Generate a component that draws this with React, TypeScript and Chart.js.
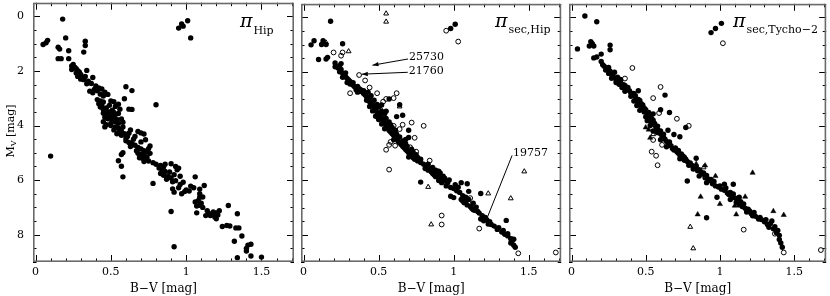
import { useEffect, useRef } from 'react';
import { Chart, registerables } from 'chart.js';

Chart.register(...registerables);

type Pt = [number, number];

// ---------- axes ----------
const X_MIN = -0.017;
const X_MAX = 1.716;
const Y_MIN = -0.5;
const Y_MAX = 9.0;
const X_TICKS = [0, 0.5, 1, 1.5];
const X_TICK_LABELS = ['0', '0.5', '1', '1.5'];
const X_MINOR = [0, 0.1, 0.2, 0.3, 0.4, 0.5, 0.6, 0.7, 0.8, 0.9, 1.0, 1.1, 1.2, 1.3, 1.4, 1.5, 1.6, 1.7];
const Y_TICKS = [0, 2, 4, 6, 8];
const Y_TICK_LABELS = ['0', '2', '4', '6', '8'];
const Y_MINOR = [-0.5, 0, 0.5, 1, 1.5, 2, 2.5, 3, 3.5, 4, 4.5, 5, 5.5, 6, 6.5, 7, 7.5, 8, 8.5, 9];
const X_TITLE = 'B\u2212V [mag]';
const Y_TITLE_MAIN = 'M';
const Y_TITLE_SUB = 'V';
const Y_TITLE_REST = ' [mag]';

// ---------- panel 1: pi_Hip ----------
const P1_FILLED: Pt[] = [
  [0.18, 0.10], [0.05, 1.03], [0.07, 0.97], [0.08, 0.88], [0.20, 0.79], [0.33, 0.91], [0.33, 1.07],
  [0.15, 1.13], [0.16, 1.20], [0.22, 1.26], [0.32, 1.31], [0.22, 1.55], [0.15, 1.55], [0.17, 1.55],
  [0.95, 0.43], [0.98, 0.36], [0.97, 0.28], [1.01, 0.16], [1.03, 0.79],
  [0.10, 5.12], [0.80, 3.24], [0.92, 8.44], [0.90, 7.15], [1.12, 6.20], [0.78, 6.12],
  [0.24, 1.82], [0.25, 1.76], [0.26, 1.86], [0.27, 1.92], [0.24, 1.95], [0.28, 1.99], [0.29, 2.04],
  [0.27, 2.08], [0.34, 1.98], [0.30, 2.13], [0.28, 2.20], [0.31, 2.25], [0.33, 2.20], [0.32, 2.32],
  [0.35, 2.38], [0.38, 2.24], [0.37, 2.46], [0.34, 2.47], [0.30, 2.30],
  [0.40, 2.55], [0.42, 2.62], [0.39, 2.68], [0.36, 2.74], [0.38, 2.80], [0.41, 2.73], [0.44, 2.66],
  [0.46, 2.78], [0.43, 2.85], [0.45, 2.92], [0.60, 2.58], [0.64, 2.72], [0.59, 3.02], [0.48, 2.86],
  [0.41, 3.05], [0.43, 3.10], [0.45, 3.14], [0.42, 3.20], [0.44, 3.26], [0.43, 3.32], [0.47, 3.36],
  [0.45, 3.42], [0.46, 3.47], [0.50, 3.10], [0.52, 3.13], [0.55, 3.22], [0.53, 3.30], [0.56, 3.40],
  [0.62, 3.40], [0.64, 3.41], [0.49, 3.26], [0.51, 3.44],
  [0.45, 3.55], [0.47, 3.60], [0.46, 3.70], [0.48, 3.75], [0.50, 3.66], [0.52, 3.70], [0.51, 3.80],
  [0.53, 3.86], [0.55, 3.92], [0.50, 3.92], [0.45, 3.86], [0.47, 3.97], [0.57, 3.76], [0.53, 3.60],
  [0.55, 3.56], [0.49, 3.50], [0.52, 3.52], [0.54, 3.78], [0.58, 3.88],
  [0.46, 4.05], [0.50, 4.00], [0.53, 4.05], [0.55, 4.10], [0.52, 4.16], [0.57, 4.20], [0.55, 4.26],
  [0.59, 4.30], [0.57, 4.36], [0.61, 4.40], [0.60, 4.46], [0.54, 4.30], [0.63, 4.16], [0.58, 4.05],
  [0.65, 4.50], [0.68, 4.22], [0.70, 4.27], [0.72, 4.31], [0.62, 4.28], [0.66, 4.40],
  [0.60, 4.56], [0.62, 4.62], [0.64, 4.66], [0.66, 4.72], [0.63, 4.77], [0.68, 4.80], [0.70, 4.86],
  [0.72, 4.92], [0.74, 4.96], [0.67, 4.92], [0.70, 4.60], [0.73, 4.52], [0.76, 4.75], [0.75, 4.85],
  [0.57, 5.06], [0.58, 5.00],
  [0.68, 5.02], [0.70, 5.06], [0.72, 5.10], [0.74, 5.15], [0.71, 5.20], [0.73, 5.25], [0.69, 5.18],
  [0.76, 5.02], [0.75, 5.30], [0.78, 5.36], [0.80, 5.42], [0.83, 5.46], [0.85, 5.52], [0.82, 5.56],
  [0.90, 5.40], [0.93, 5.50], [0.95, 5.56], [0.94, 5.62], [0.55, 5.29], [0.57, 5.49], [0.58, 5.88],
  [0.72, 5.32], [0.86, 5.42],
  [0.84, 5.62], [0.86, 5.68], [0.83, 5.76], [0.85, 5.82], [0.88, 5.86], [0.90, 5.92], [0.87, 5.97],
  [0.92, 5.80], [0.96, 5.86], [1.06, 5.88], [0.93, 6.02], [0.91, 6.06], [0.89, 5.70],
  [0.91, 6.32], [0.92, 6.44], [0.98, 6.08], [0.97, 6.50], [1.00, 6.36], [1.03, 6.22], [1.05, 6.28],
  [1.09, 6.33], [1.09, 6.50], [0.95, 6.28], [0.99, 6.42], [1.02, 6.40], [0.96, 6.16],
  [1.09, 6.63], [1.08, 6.75], [1.09, 6.92], [1.11, 6.62], [1.10, 6.85], [1.07, 6.95], [1.11, 7.00],
  [1.07, 7.20], [1.06, 6.80],
  [1.14, 7.12], [1.15, 7.22], [1.16, 7.30], [1.18, 7.17], [1.19, 7.35], [1.20, 7.42], [1.21, 7.28],
  [1.22, 7.12], [1.28, 6.93], [1.17, 7.25], [1.20, 7.20], [1.13, 7.30],
  [1.24, 7.70], [1.27, 7.66], [1.29, 7.68], [1.34, 7.23], [1.33, 7.75], [1.35, 7.75], [1.37, 8.05],
  [1.32, 8.24], [1.34, 8.84], [1.40, 8.50], [1.40, 8.60], [1.41, 8.38], [1.43, 8.35], [1.43, 8.78],
  [1.50, 8.82],
];

// ---------- panel 2: pi_sec,Hip ----------
const P2_FILLED: Pt[] = [
  [0.18, 0.14], [0.05, 1.01], [0.07, 0.86], [0.13, 0.86], [0.12, 1.00], [0.15, 1.00], [0.26, 0.97],
  [0.10, 1.55], [0.15, 1.53], [0.16, 1.47], [0.98, 0.41], [1.01, 0.25],
  [0.21, 1.68], [0.21, 1.82], [0.23, 1.86], [0.24, 1.78], [0.25, 1.92], [0.24, 2.00], [0.26, 2.05],
  [0.27, 2.12], [0.28, 2.18], [0.26, 2.20], [0.29, 2.25], [0.30, 2.30], [0.31, 2.36], [0.28, 2.04],
  [0.25, 1.70], [0.33, 2.40], [0.34, 2.55], [0.35, 2.66], [0.37, 2.62], [0.38, 2.66], [0.39, 2.74],
  [0.36, 2.75], [0.40, 2.80], [0.41, 2.86], [0.42, 2.92], [0.43, 3.00], [0.44, 2.96], [0.42, 3.05],
  [0.44, 3.10], [0.45, 3.16], [0.46, 3.22], [0.44, 3.28], [0.47, 3.32], [0.48, 3.38], [0.46, 3.44],
  [0.49, 3.50], [0.50, 3.56], [0.51, 3.62], [0.48, 3.64], [0.52, 3.70], [0.50, 3.76], [0.53, 3.82],
  [0.54, 3.88], [0.52, 3.92], [0.55, 3.98], [0.56, 4.04], [0.54, 4.10], [0.57, 4.16], [0.58, 4.22],
  [0.59, 4.28], [0.60, 4.34], [0.61, 4.40], [0.62, 4.46], [0.60, 4.50], [0.63, 4.56], [0.64, 4.62],
  [0.65, 4.68], [0.66, 4.74], [0.67, 4.80], [0.68, 4.86], [0.69, 4.92], [0.70, 4.98], [0.71, 5.04],
  [0.72, 5.10], [0.73, 5.16], [0.74, 5.22], [0.70, 5.14], [0.76, 5.28], [0.78, 5.34], [0.80, 5.40],
  [0.82, 5.46], [0.81, 5.56], [0.83, 5.62], [0.85, 5.68], [0.86, 5.74], [0.87, 5.80], [0.88, 5.86],
  [0.90, 5.78], [0.92, 5.90], [0.93, 5.84], [0.91, 5.96], [0.89, 5.70], [0.94, 6.02], [0.96, 6.08],
  [0.95, 6.20], [0.98, 6.26], [1.00, 6.30], [1.02, 6.38], [1.04, 6.44], [1.05, 6.70], [1.06, 6.76],
  [1.07, 6.82], [1.08, 6.76], [1.09, 6.90], [1.11, 6.96], [1.12, 7.02], [1.13, 7.08], [1.14, 7.10],
  [1.16, 7.14], [1.18, 7.42], [1.20, 7.48], [1.22, 7.44], [1.24, 7.52], [1.23, 7.60], [1.27, 7.68],
  [1.29, 7.80], [1.32, 7.90], [1.34, 7.98], [1.36, 8.04], [1.38, 8.14], [1.40, 8.16], [1.39, 8.22],
  [1.41, 8.46],
  [0.78, 6.06], [1.00, 6.63], [1.05, 6.08], [1.09, 6.12], [1.18, 6.48], [1.35, 7.47], [0.64, 3.21],
  [0.70, 4.15], [0.70, 4.42], [0.68, 4.49], [0.57, 3.00], [0.52, 3.22], [0.55, 3.45], [0.62, 3.65],
  [0.66, 3.60], [0.98, 6.58], [1.10, 6.40],
  [0.37, 2.72], [0.40, 2.70], [0.43, 2.75], [0.45, 2.88], [0.47, 3.05], [0.49, 3.20], [0.50, 3.30],
  [0.52, 3.45], [0.54, 3.55], [0.55, 3.72], [0.57, 3.85], [0.58, 3.95], [0.59, 4.05], [0.61, 4.15],
  [0.62, 4.30], [0.64, 4.40], [0.66, 4.55], [0.68, 4.65], [0.69, 4.75], [0.72, 4.85], [0.73, 4.95],
  [0.75, 5.05], [0.76, 5.15], [0.78, 5.22], [0.83, 5.40], [0.85, 5.55], [0.86, 5.52], [0.88, 5.62],
  [0.90, 5.66], [0.91, 5.72], [0.89, 5.82], [0.90, 6.00], [0.92, 6.08], [0.94, 5.92], [0.97, 5.98],
  [1.01, 6.16], [1.03, 6.25], [1.06, 6.56], [1.08, 6.62], [1.10, 6.70], [1.13, 6.84], [1.15, 6.98],
  [1.17, 7.20], [1.19, 7.30], [1.21, 7.36], [1.25, 7.62], [1.30, 7.74], [1.33, 7.84], [1.36, 7.96],
  [1.38, 8.30], [1.40, 8.38], [0.33, 2.50], [0.36, 2.54], [0.31, 2.45], [0.29, 2.40],
];
const P2_OPEN: Pt[] = [
  [0.95, 0.49], [1.03, 0.89], [0.20, 1.29], [0.26, 1.29], [0.25, 1.41], [0.37, 2.12], [0.41, 2.32],
  [0.44, 2.58], [0.49, 2.79], [0.31, 2.79], [0.62, 2.79], [0.60, 2.97], [0.55, 3.00], [0.49, 3.27],
  [0.51, 3.39], [0.80, 3.99], [0.72, 3.87], [0.60, 3.99], [0.64, 4.11], [0.74, 4.43], [0.71, 4.78],
  [0.75, 4.94], [0.84, 5.27], [0.57, 5.60], [0.55, 4.87], [0.57, 4.69], [0.61, 4.72], [0.92, 7.29],
  [0.92, 7.62], [1.17, 7.77], [1.11, 6.65], [1.10, 6.85], [1.39, 8.17], [1.43, 8.68], [1.68, 8.65],
  [0.61, 4.21], [0.53, 3.60], [0.66, 3.95], [0.58, 4.58], [0.53, 3.10],
];
const P2_TRI_OPEN: Pt[] = [
  [0.55, -0.14], [0.55, 0.16], [0.30, 1.25], [0.64, 3.28], [0.83, 6.24], [0.85, 7.62], [1.23, 6.48],
  [1.47, 5.67], [1.38, 6.66], [0.15, 0.93],
];

// ---------- panel 3: pi_sec,Tycho-2 ----------
const P3_FILLED: Pt[] = [
  [0.09, -0.05], [0.17, 0.16], [0.04, 1.16], [0.12, 1.05], [0.13, 0.89], [0.15, 1.05], [0.14, 0.97],
  [0.26, 1.02], [0.26, 1.19], [0.15, 1.49], [0.17, 1.46], [0.20, 1.35], [0.94, 0.56], [0.97, 0.41],
  [1.01, 0.22],
  [0.20, 1.62], [0.21, 1.74], [0.22, 1.80], [0.24, 1.86], [0.23, 1.94], [0.25, 1.84], [0.26, 1.98],
  [0.25, 2.06], [0.27, 2.10], [0.29, 2.02], [0.28, 2.16], [0.27, 2.24], [0.30, 2.30], [0.31, 2.20],
  [0.33, 2.36], [0.32, 2.46], [0.35, 2.48], [0.34, 2.58], [0.37, 2.62], [0.36, 2.72], [0.39, 2.70],
  [0.40, 2.78], [0.42, 2.80], [0.40, 2.90], [0.43, 2.96], [0.45, 3.02], [0.42, 3.08], [0.45, 3.12],
  [0.47, 3.18], [0.44, 3.24], [0.47, 3.30], [0.49, 3.36], [0.46, 3.42], [0.49, 3.48], [0.51, 3.54],
  [0.52, 3.62], [0.50, 3.66], [0.54, 3.72], [0.51, 3.80], [0.54, 3.86], [0.56, 3.90], [0.53, 3.98],
  [0.57, 4.04], [0.58, 4.12], [0.55, 4.18], [0.58, 4.24], [0.60, 4.28], [0.61, 4.36], [0.62, 4.42],
  [0.60, 4.50], [0.64, 4.56], [0.65, 4.62], [0.66, 4.68], [0.64, 4.76], [0.68, 4.82], [0.69, 4.88],
  [0.71, 4.94], [0.72, 5.00], [0.73, 5.06], [0.75, 5.10], [0.73, 5.20], [0.76, 5.26], [0.78, 5.30],
  [0.80, 5.36], [0.81, 5.44], [0.84, 5.48], [0.82, 5.58], [0.85, 5.64], [0.87, 5.68], [0.88, 5.76],
  [0.86, 5.84], [0.90, 5.90], [0.92, 5.94], [0.93, 6.00], [0.91, 6.08], [0.95, 6.12], [0.97, 6.20],
  [0.99, 6.24], [1.01, 6.32], [1.03, 6.36], [1.05, 6.46], [1.06, 6.52], [1.08, 6.58], [1.10, 6.64],
  [1.12, 6.72], [1.14, 6.78], [1.13, 6.90], [1.15, 6.96], [1.17, 7.02], [1.19, 7.06], [1.18, 7.16],
  [1.21, 7.22], [1.22, 7.30], [1.24, 7.32], [1.26, 7.42], [1.28, 7.44], [1.30, 7.52], [1.32, 7.62],
  [1.33, 7.72], [1.36, 7.78], [1.38, 7.92], [1.40, 8.02], [1.41, 8.30],
  [0.63, 2.86], [0.45, 2.70], [0.65, 4.15], [0.69, 4.31], [0.73, 4.39], [0.84, 5.18], [0.78, 6.02],
  [1.03, 6.14], [1.09, 6.14], [0.91, 7.37], [1.35, 7.49], [1.40, 8.17], [1.42, 8.46], [1.07, 6.70],
  [0.98, 6.62], [1.13, 6.62], [0.55, 3.55], [0.60, 3.40], [0.66, 3.50], [0.77, 4.05],
  [0.43, 2.88], [0.46, 3.06], [0.48, 3.22], [0.50, 3.40], [0.52, 3.50], [0.53, 3.66], [0.55, 3.78],
  [0.56, 3.96], [0.58, 4.00], [0.60, 4.18], [0.62, 4.30], [0.63, 4.48], [0.66, 4.58], [0.67, 4.72],
  [0.70, 4.80], [0.72, 4.90], [0.74, 5.02], [0.75, 5.18], [0.76, 5.14], [0.77, 5.22], [0.79, 5.44],
  [0.83, 5.56], [0.86, 5.60], [0.89, 5.72], [0.91, 5.82], [0.94, 5.96], [0.96, 6.04], [1.00, 6.20],
  [1.04, 6.28], [1.07, 6.44], [1.09, 6.50], [1.11, 6.80], [1.16, 6.86], [1.20, 7.12], [1.23, 7.18],
  [1.27, 7.36], [1.31, 7.44], [1.34, 7.58], [1.37, 7.70], [1.39, 7.84], [0.30, 2.40], [0.33, 2.28],
  [0.36, 2.50], [0.38, 2.58],
];
const P3_OPEN: Pt[] = [
  [1.02, 0.95], [0.41, 1.86], [0.36, 2.25], [0.60, 2.56], [0.55, 2.97], [0.49, 3.34], [0.59, 3.52],
  [0.71, 3.73], [0.79, 3.99], [0.55, 4.51], [0.61, 4.69], [0.54, 4.94], [0.57, 5.09], [0.58, 5.44],
  [1.16, 7.81], [1.37, 7.96], [1.43, 8.65], [1.68, 8.56], [0.48, 3.40],
];
const P3_TRI_FILLED: Pt[] = [
  [0.52, 4.13], [0.53, 4.43], [0.84, 5.39], [0.97, 5.84], [0.87, 6.60], [0.85, 7.25], [1.00, 6.87],
  [1.10, 6.93], [1.17, 6.60], [1.22, 5.72], [1.36, 7.13], [1.43, 7.27], [1.11, 7.25], [0.90, 5.45],
  [0.50, 4.05],
];
const P3_TRI_OPEN: Pt[] = [[0.80, 7.71], [0.82, 8.50], [0.89, 5.52], [0.55, 4.30]];

// ---------- annotations (panel 2) ----------
const ANNOT_LABELS = ['25730', '21760', '19757'];
const ANNOT_FROM: Pt[] = [[0.696, 1.53], [0.694, 2.02], [1.389, 5.08]];
const ANNOT_TO: Pt[] = [[0.459, 1.76], [0.388, 2.09], [1.216, 7.47]];
const ANNOT_ARROW = [true, true, false];

const SERIF = '"DejaVu Serif", "Liberation Serif", serif';

type DS = { data: Pt[]; kind: 'filled' | 'open' | 'triFilled' | 'triOpen' };

type Panel = {
  left: number;
  width: number;
  padLeft: number;
  padRight: number;
  showY: boolean;
  datasets: DS[];
  sub: string;
  piOffset: number;
  subBaseline: number;
  annotate: boolean;
};

const PANELS: Panel[] = [
  {
    left: 0, width: 297, padLeft: 0, padRight: 3, showY: true,
    datasets: [{ data: P1_FILLED, kind: 'filled' }],
    sub: 'Hip', piOffset: 207, subBaseline: 34, annotate: false,
  },
  {
    left: 297, width: 268, padLeft: 4, padRight: 3, showY: false,
    datasets: [
      { data: P2_FILLED, kind: 'filled' },
      { data: P2_OPEN, kind: 'open' },
      { data: P2_TRI_OPEN, kind: 'triOpen' },
    ],
    sub: 'sec,Hip', piOffset: 194, subBaseline: 33, annotate: true,
  },
  {
    left: 565, width: 265, padLeft: 4, padRight: 1, showY: false,
    datasets: [
      { data: P3_FILLED, kind: 'filled' },
      { data: P3_OPEN, kind: 'open' },
      { data: P3_TRI_FILLED, kind: 'triFilled' },
      { data: P3_TRI_OPEN, kind: 'triOpen' },
    ],
    sub: 'sec,Tycho\u22122', piOffset: 164, subBaseline: 33, annotate: false,
  },
];

const H = 296;
const X_AXIS_H = 34;
const Y_AXIS_W = 33;

function styleFor(kind: DS['kind']) {
  switch (kind) {
    case 'filled':
      return { pointStyle: 'circle', pointRadius: 2.7, backgroundColor: '#000', borderColor: '#000', borderWidth: 0 };
    case 'open':
      return { pointStyle: 'circle', pointRadius: 2.4, backgroundColor: 'rgba(0,0,0,0)', borderColor: '#000', borderWidth: 1 };
    case 'triFilled':
      return { pointStyle: 'triangle', pointRadius: 3, backgroundColor: '#000', borderColor: '#000', borderWidth: 0.5 };
    default:
      return { pointStyle: 'triangle', pointRadius: 2.8, backgroundColor: 'rgba(0,0,0,0)', borderColor: '#000', borderWidth: 1 };
  }
}

function zeroPad(s: any) {
  s.paddingLeft = 0;
  s.paddingRight = 0;
  s.paddingTop = 0;
  s.paddingBottom = 0;
}

function makeDecor(panel: Panel) {
  return {
    id: 'decor',
    afterDraw(chart: any) {
      const { ctx, chartArea } = chart;
      const { left, right, top, bottom } = chartArea;
      const xs = chart.scales.x;
      const ys = chart.scales.y;
      ctx.save();
      // inward ticks
      ctx.strokeStyle = '#000';
      ctx.lineWidth = 1;
      ctx.beginPath();
      X_MINOR.forEach((v) => {
        const px = Math.round(xs.getPixelForValue(v)) + 0.5;
        const len = X_TICKS.some((t) => Math.abs(t - v) < 1e-9) ? 7 : 3.5;
        ctx.moveTo(px, bottom);
        ctx.lineTo(px, bottom - len);
        ctx.moveTo(px, top);
        ctx.lineTo(px, top + len);
      });
      Y_MINOR.forEach((v) => {
        const py = Math.round(ys.getPixelForValue(v)) + 0.5;
        const len = Y_TICKS.some((t) => Math.abs(t - v) < 1e-9) ? 7 : 3.5;
        ctx.moveTo(left, py);
        ctx.lineTo(left + len, py);
        ctx.moveTo(right, py);
        ctx.lineTo(right - len, py);
      });
      ctx.stroke();
      // frame
      ctx.strokeStyle = '#6a6a6a';
      ctx.lineWidth = 1.6;
      ctx.strokeRect(left + 0.8, top + 0.8, right - left - 1.6, bottom - top - 1.6);

      // panel label
      ctx.fillStyle = '#000';
      ctx.textBaseline = 'alphabetic';
      ctx.textAlign = 'left';
      const piX = left + panel.piOffset;
      ctx.font = `italic 19px ${SERIF}`;
      ctx.fillText('\u03C0', piX, 27);
      const piW = ctx.measureText('\u03C0').width;
      ctx.font = `11px ${SERIF}`;
      ctx.fillText(panel.sub, piX + piW + 1, panel.subBaseline);

      // annotations
      if (panel.annotate) {
        ctx.font = `11px ${SERIF}`;
        ctx.textBaseline = 'middle';
        ctx.lineWidth = 1;
        ctx.strokeStyle = '#000';
        ANNOT_LABELS.forEach((lab, i) => {
          const x0 = xs.getPixelForValue(ANNOT_FROM[i][0]);
          const y0 = ys.getPixelForValue(ANNOT_FROM[i][1]);
          const x1 = xs.getPixelForValue(ANNOT_TO[i][0]);
          const y1 = ys.getPixelForValue(ANNOT_TO[i][1]);
          ctx.beginPath();
          ctx.moveTo(x0, y0);
          ctx.lineTo(x1, y1);
          ctx.stroke();
          if (ANNOT_ARROW[i]) {
            const a = Math.atan2(y1 - y0, x1 - x0);
            const L = 6;
            const w = 2.2;
            ctx.beginPath();
            ctx.moveTo(x1, y1);
            ctx.lineTo(x1 - L * Math.cos(a) + w * Math.sin(a), y1 - L * Math.sin(a) - w * Math.cos(a));
            ctx.lineTo(x1 - L * Math.cos(a) - w * Math.sin(a), y1 - L * Math.sin(a) + w * Math.cos(a));
            ctx.closePath();
            ctx.fill();
          }
          const ty = i === 2 ? y0 - 2 : y0 - 1.5;
          ctx.fillText(lab, x0 + 1, ty);
        });
      }

      // y title with subscript
      if (panel.showY) {
        ctx.translate(9.5, 131);
        ctx.rotate(-Math.PI / 2);
        ctx.textBaseline = 'alphabetic';
        ctx.font = `11px ${SERIF}`;
        const wM = ctx.measureText(Y_TITLE_MAIN).width;
        const wR = ctx.measureText(Y_TITLE_REST).width;
        ctx.font = `8px ${SERIF}`;
        const wS = ctx.measureText(Y_TITLE_SUB).width;
        const total = wM + wS + wR;
        let cx = -total / 2;
        ctx.font = `11px ${SERIF}`;
        ctx.fillText(Y_TITLE_MAIN, cx, 4);
        cx += wM;
        ctx.font = `8px ${SERIF}`;
        ctx.fillText(Y_TITLE_SUB, cx, 6.5);
        cx += wS;
        ctx.font = `11px ${SERIF}`;
        ctx.fillText(Y_TITLE_REST, cx, 4);
      }
      ctx.restore();
    },
  };
}

function PanelChart({ panel }: { panel: Panel }) {
  const ref = useRef<HTMLCanvasElement | null>(null);
  useEffect(() => {
    if (!ref.current) return;
    const chart = new Chart(ref.current, {
      type: 'scatter',
      data: {
        datasets: panel.datasets.map((d) => ({
          data: d.data.map(([x, y]) => ({ x, y })),
          ...styleFor(d.kind),
          pointHoverRadius: 0,
        })) as any,
      },
      options: {
        animation: false,
        responsive: false,
        maintainAspectRatio: false,
        events: [],
        layout: { padding: { left: panel.padLeft, right: panel.padRight, top: 0, bottom: 0 } },
        plugins: { legend: { display: false }, tooltip: { enabled: false } },
        scales: {
          x: {
            type: 'linear',
            min: X_MIN,
            max: X_MAX,
            afterBuildTicks: (s: any) => {
              s.ticks = X_TICKS.map((v) => ({ value: v }));
            },
            afterFit: (s: any) => {
              s.height = X_AXIS_H;
              zeroPad(s);
            },
            grid: { display: false, drawTicks: false },
            border: { display: false },
            ticks: {
              autoSkip: false,
              maxRotation: 0,
              padding: 4,
              color: '#000',
              font: { family: SERIF, size: 11 },
              callback: (v: any) => {
                const i = X_TICKS.findIndex((t) => Math.abs(t - Number(v)) < 1e-9);
                return i >= 0 ? X_TICK_LABELS[i] : '';
              },
            },
            title: {
              display: true,
              text: X_TITLE,
              color: '#000',
              font: { family: SERIF, size: 12 },
              padding: { top: 0, bottom: 0 },
            },
          },
          y: {
            type: 'linear',
            reverse: true,
            min: Y_MIN,
            max: Y_MAX,
            display: panel.showY,
            afterBuildTicks: (s: any) => {
              s.ticks = Y_TICKS.map((v) => ({ value: v }));
            },
            afterFit: (s: any) => {
              s.width = panel.showY ? Y_AXIS_W : 0;
              zeroPad(s);
            },
            grid: { display: false, drawTicks: false },
            border: { display: false },
            ticks: {
              padding: 9,
              color: '#000',
              font: { family: SERIF, size: 11 },
              callback: (v: any) => {
                const i = Y_TICKS.findIndex((t) => Math.abs(t - Number(v)) < 1e-9);
                return i >= 0 ? Y_TICK_LABELS[i] : '';
              },
            },
          },
        },
      } as any,
      plugins: [makeDecor(panel)],
    });
    return () => chart.destroy();
  }, [panel]);
  return (
    <canvas
      ref={ref}
      width={panel.width}
      height={H}
      style={{ position: 'absolute', left: panel.left, top: 0, width: panel.width, height: H }}
    />
  );
}

export default function App() {
  return (
    <div style={{ position: 'absolute', left: 0, top: 0, width: 830, height: H, background: '#fff' }}>
      {PANELS.map((p, i) => (
        <PanelChart key={i} panel={p} />
      ))}
    </div>
  );
}
